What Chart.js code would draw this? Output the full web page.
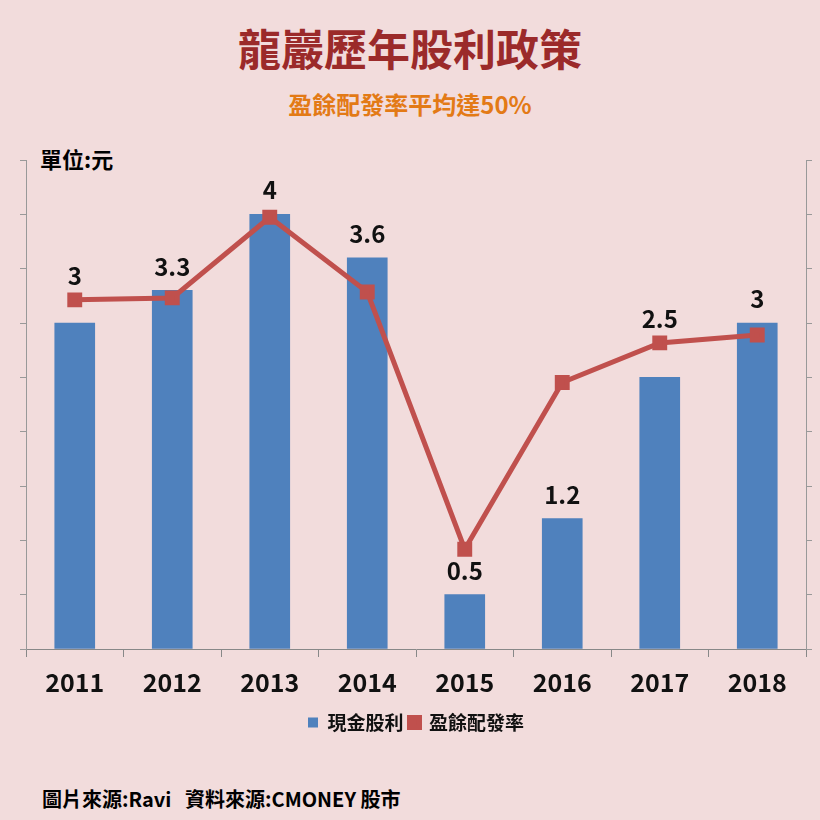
<!DOCTYPE html><html><head><meta charset="utf-8">
<script src="https://cdn.jsdelivr.net/npm/chart.js@4"></script>
<style>body{margin:0;background:#f2dcdc;font-family:"Noto Sans CJK TC";}
#w{position:absolute;left:0;top:0;width:820px;height:820px;}
.t{position:absolute;width:820px;text-align:center;font-weight:bold;}
</style></head><body>
<div class="t" style="top:16px;font-size:43px;color:#9b2a2a;">龍巖歷年股利政策</div>
<div class="t" style="top:86px;font-size:24px;color:#e37a16;">盈餘配發率平均達50%</div>
<div style="position:absolute;left:40px;top:142px;font-size:22px;font-weight:bold;">單位:元</div>
<div style="position:absolute;left:42px;top:784px;font-size:20px;font-weight:bold;">圖片來源:Ravi&nbsp;&nbsp;&nbsp;資料來源:CMONEY 股市</div>
<div id="w"><canvas id="c" width="820" height="820"></canvas></div>
<script>
const years=['2011','2012','2013','2014','2015','2016','2017','2018'];
const cashDividend=[3,3.3,4,3.6,0.5,1.2,2.5,3];
const payoutRatio=[71.4,71.8,88.3,73.0,20.4,54.5,62.6,64.2];
const labelPlugin={id:'lbl',afterDatasetsDraw(ch){const c=ch.ctx;const y=ch.scales.y,y1=ch.scales.y1,x=ch.scales.x;
c.save();c.font='bold 24px "Noto Sans CJK TC"';c.fillStyle='#111';c.textAlign='center';c.textBaseline='bottom';
cashDividend.forEach((v,i)=>{const b=y.getPixelForValue(v),l=y1.getPixelForValue(payoutRatio[i]);const top=(l<b&&b-l<40)?l:b;c.fillText(String(v),x.getPixelForValue(i),top-12);});
c.restore();}};
new Chart(document.getElementById('c'),{data:{labels:years,datasets:[
{type:'line',label:'盈餘配發率',data:payoutRatio,yAxisID:'y1',borderColor:'#c0504d',backgroundColor:'#c0504d',borderWidth:5,pointStyle:'rect',pointRadius:7,tension:0,order:0},
{type:'bar',label:'現金股利',data:cashDividend,yAxisID:'y',backgroundColor:'#4f81bd',barThickness:40,order:1,pointStyle:'rect'}]},
options:{responsive:false,animation:false,layout:{padding:{left:20,right:8,top:160,bottom:78}},
plugins:{legend:{position:'bottom',reverse:true,labels:{font:{size:19,weight:'bold',family:'Noto Sans CJK TC'},color:'#111',usePointStyle:true,boxWidth:10,boxHeight:10,padding:6}},tooltip:{enabled:false}},
scales:{x:{grid:{display:true,drawOnChartArea:false,color:'#888',tickLength:8},border:{color:'#888'},ticks:{font:{size:25,weight:'bold',family:'Noto Sans CJK TC'},color:'#111',padding:10}},
y:{min:0,max:4.5,ticks:{stepSize:0.5,display:false},grid:{drawOnChartArea:false,color:'#999',tickLength:6},border:{color:'#999'}},
y1:{position:'right',min:0,max:100,ticks:{stepSize:100/9,display:false},grid:{drawOnChartArea:false,color:'#999',tickLength:6},border:{color:'#999'}}}},
plugins:[labelPlugin]});
</script></body></html>
